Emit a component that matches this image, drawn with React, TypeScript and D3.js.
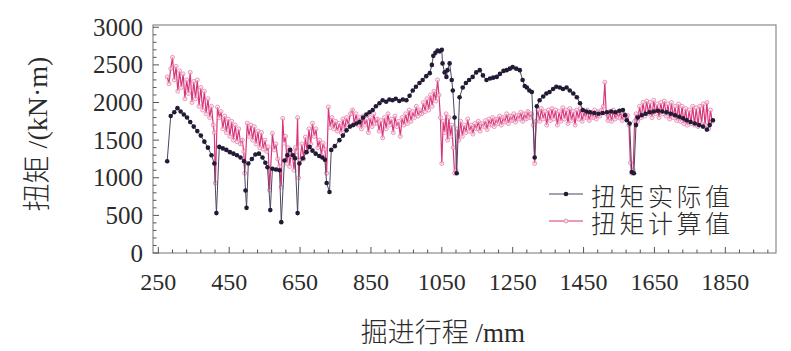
import React from "react";
import * as d3 from "d3";

// measured torque, [stroke mm, kN·m]
const actualSeries = [
  [275, 1220], [285, 1820], [295, 1870], [304, 1925], [313, 1880], [322, 1840], [331, 1800],
  [340, 1740], [350, 1680], [360, 1620], [370, 1560], [380, 1480], [390, 1400], [400, 1300],
  [408, 1190], [414, 530], [422, 1410], [432, 1390], [442, 1370], [452, 1340], [462, 1320],
  [472, 1300], [482, 1270], [492, 1220], [496, 830], [499, 600], [504, 1190], [514, 1250],
  [524, 1310], [534, 1320], [544, 1270], [552, 1200], [558, 1140], [566, 570], [572, 1120],
  [582, 1110], [592, 1100], [597, 410], [606, 1230], [614, 1300], [622, 1370], [630, 1300],
  [636, 1260], [643, 530], [648, 1190], [658, 1260], [668, 1340], [677, 1410], [685, 1360],
  [694, 1320], [704, 1290], [713, 1270], [720, 1240], [725, 930], [733, 810], [738, 1370],
  [748, 1420], [761, 1500], [771, 1560], [781, 1630], [791, 1680], [800, 1700], [809, 1720],
  [818, 1740], [828, 1800], [837, 1840], [846, 1870], [855, 1900], [864, 1950], [874, 1990],
  [883, 2030], [893, 2010], [902, 2040], [911, 2030], [920, 2050], [930, 2020], [940, 2040],
  [950, 2030], [959, 2090], [968, 2160], [977, 2210], [987, 2260], [996, 2300], [1006, 2350],
  [1016, 2390], [1022, 2500], [1026, 2620], [1032, 2660], [1038, 2690], [1044, 2680],
  [1050, 2700], [1052, 2520], [1058, 2400], [1063, 2340], [1066, 2430], [1072, 2520],
  [1078, 2300], [1081, 2160], [1086, 1800], [1092, 1060], [1100, 2070], [1109, 2200],
  [1118, 2260], [1127, 2300], [1137, 2340], [1147, 2400], [1157, 2430], [1166, 2360],
  [1176, 2300], [1186, 2320], [1195, 2330], [1205, 2340], [1214, 2380], [1224, 2420],
  [1233, 2430], [1242, 2450], [1250, 2470], [1260, 2450], [1270, 2430], [1278, 2300],
  [1284, 2220], [1290, 2200], [1297, 2160], [1304, 2140], [1312, 1270], [1318, 1950],
  [1326, 2030], [1336, 2080], [1345, 2120], [1354, 2140], [1364, 2180], [1373, 2210],
  [1383, 2200], [1392, 2180], [1402, 2200], [1411, 2160], [1421, 2120], [1431, 2070],
  [1440, 1990], [1448, 1900], [1458, 1880], [1468, 1870], [1480, 1860], [1492, 1850],
  [1504, 1860], [1516, 1870], [1528, 1880], [1540, 1870], [1551, 1890], [1561, 1900],
  [1567, 1830], [1572, 1765], [1580, 1720], [1586, 1075], [1592, 1060], [1598, 1700],
  [1603, 1800], [1614, 1830], [1625, 1850], [1636, 1870], [1648, 1880], [1660, 1890],
  [1672, 1880], [1684, 1870], [1696, 1850], [1708, 1830], [1720, 1810], [1731, 1790],
  [1741, 1765], [1752, 1740], [1764, 1720], [1776, 1700], [1787, 1680], [1798, 1640],
  [1806, 1700], [1815, 1765],
];

// calculated torque, [stroke mm, kN·m]
const calcSeries = [
  [275, 2340], [280, 2250], [285, 2450], [290, 2600], [295, 2300], [300, 2480], [305, 2150],
  [310, 2420], [315, 2200], [320, 2380], [325, 2050], [330, 2300], [335, 2120], [340, 2400],
  [345, 2000], [350, 2280], [355, 2050], [360, 2300], [365, 1950], [370, 2200], [375, 1900],
  [380, 2150], [385, 1850], [390, 2050], [395, 1800], [400, 1950], [405, 1700], [408, 1600],
  [411, 930], [417, 1940], [422, 1800], [427, 1880], [432, 1650], [437, 1820], [442, 1600],
  [447, 1780], [452, 1550], [457, 1750], [462, 1500], [467, 1700], [472, 1480], [477, 1650],
  [482, 1450], [487, 1500], [491, 1350], [494, 1060], [501, 1725], [506, 1550], [511, 1700],
  [516, 1500], [521, 1680], [526, 1450], [531, 1620], [536, 1400], [541, 1600], [546, 1380],
  [551, 1500], [556, 1350], [560, 1410], [564, 835], [572, 1590], [577, 1370], [582, 1450],
  [587, 1250], [592, 1150], [597, 875], [601, 1790], [605, 1460], [609, 1550], [613, 1190],
  [617, 1400], [621, 1150], [625, 1350], [629, 1275], [633, 1100], [637, 1400], [640, 1350],
  [643, 1800], [646, 1000], [650, 1230], [655, 1450], [660, 1250], [665, 1540], [670, 1350],
  [675, 1650], [680, 1450], [685, 1725], [690, 1550], [695, 1650], [700, 1400], [705, 1500],
  [710, 1300], [715, 1460], [720, 1380], [725, 1060], [730, 1940], [735, 1670], [740, 1800],
  [745, 1650], [750, 1750], [755, 1620], [761, 1725], [766, 1600], [771, 1780], [776, 1650],
  [781, 1800], [786, 1700], [792, 1850], [798, 1900], [803, 1720], [808, 1850], [813, 1700],
  [818, 1800], [823, 1650], [828, 1820], [833, 1700], [838, 1780], [843, 1600], [848, 1800],
  [853, 1680], [858, 1850], [863, 1720], [868, 1780], [873, 1620], [878, 1760], [883, 1530],
  [888, 1800], [893, 1650], [898, 1850], [903, 1700], [908, 1780], [913, 1600], [918, 1820],
  [923, 1680], [928, 1750], [933, 1550], [938, 1800], [943, 1700], [948, 1850], [953, 1720],
  [958, 1900], [963, 1750], [968, 1880], [973, 1800], [978, 1950], [983, 1820], [988, 1900],
  [993, 1850], [998, 2000], [1003, 1880], [1008, 2050], [1013, 1900], [1018, 2100],
  [1023, 1950], [1028, 2150], [1033, 2020], [1038, 2300], [1042, 2100], [1046, 1800],
  [1050, 1190], [1054, 1750], [1058, 1600], [1062, 1850], [1066, 1500], [1070, 1800],
  [1074, 1550], [1078, 1700], [1082, 1400], [1086, 1060], [1090, 1100], [1094, 1650],
  [1098, 1500], [1103, 1750], [1108, 1550], [1113, 1700], [1118, 1600], [1123, 1780],
  [1128, 1620], [1133, 1700], [1138, 1580], [1143, 1720], [1148, 1650], [1153, 1750],
  [1158, 1620], [1163, 1720], [1168, 1680], [1173, 1760], [1178, 1640], [1183, 1780],
  [1188, 1700], [1193, 1800], [1198, 1680], [1203, 1780], [1208, 1720], [1213, 1820],
  [1218, 1700], [1223, 1800], [1228, 1740], [1233, 1850], [1238, 1720], [1243, 1820],
  [1248, 1760], [1253, 1850], [1258, 1740], [1263, 1830], [1268, 1780], [1273, 1870],
  [1278, 1750], [1283, 1850], [1288, 1780], [1293, 1880], [1298, 1800], [1303, 1850],
  [1308, 1700], [1312, 1190], [1316, 1750], [1321, 1900], [1326, 1750], [1331, 1920],
  [1336, 1780], [1341, 1880], [1346, 1700], [1351, 1900], [1356, 1760], [1361, 1920],
  [1366, 1780], [1371, 1900], [1376, 1700], [1381, 1880], [1386, 1750], [1391, 1930],
  [1396, 1780], [1401, 1900], [1406, 1720], [1411, 1920], [1416, 1760], [1421, 1880],
  [1426, 1700], [1431, 1900], [1436, 1780], [1441, 1920], [1446, 1750], [1451, 1880],
  [1456, 1800], [1461, 1900], [1466, 1760], [1471, 1870], [1476, 1800], [1481, 1900],
  [1486, 1780], [1491, 1880], [1496, 1820], [1501, 1900], [1506, 1950], [1510, 2270],
  [1514, 1850], [1519, 1760], [1524, 1880], [1529, 1750], [1534, 1900], [1539, 1780],
  [1544, 1870], [1549, 1800], [1554, 1880], [1559, 1760], [1564, 1850], [1569, 1800],
  [1574, 1830], [1578, 1700], [1582, 1200], [1586, 1060], [1590, 1100], [1594, 1750],
  [1598, 1850], [1603, 1750], [1608, 1950], [1613, 1800], [1618, 2000], [1623, 1820],
  [1628, 2020], [1633, 1850], [1638, 2000], [1643, 1800], [1648, 2030], [1653, 1850],
  [1658, 1980], [1663, 1800], [1668, 2000], [1673, 1850], [1678, 2020], [1683, 1820],
  [1688, 1980], [1693, 1780], [1698, 2000], [1703, 1800], [1708, 1950], [1713, 1760],
  [1718, 1980], [1723, 1750], [1728, 1950], [1733, 1720], [1738, 1920], [1743, 1700],
  [1748, 1900], [1753, 1720], [1758, 1950], [1763, 1700], [1768, 1930], [1773, 1680],
  [1778, 1950], [1783, 1720], [1788, 1980], [1793, 1700], [1798, 2000], [1803, 1650],
  [1808, 1900], [1813, 1750],
];

const xTickValues = [250, 450, 650, 850, 1050, 1250, 1450, 1650, 1850];
const yTickValues = [0, 500, 1000, 1500, 2000, 2500, 3000];
const legendLabels = ["扭矩实际值", "扭矩计算值"];

const W = 791;
const H = 351;
const left = 153, right = 776, top = 25, bottom = 253;

const serif = "'Liberation Serif', 'DejaVu Serif', serif";
const cjk = "'Noto Sans CJK SC', sans-serif";

const App = () => {
  const x = d3.scaleLinear().domain([235, 1993]).range([left, right]);
  const y = d3.scaleLinear().domain([0, 3030]).range([bottom, top]);

  const line = d3
    .line<number[]>()
    .x((d) => x(d[0]))
    .y((d) => y(d[1]));

  // small ticks every 40 mm along x, every 100 along y
  const xMinor = d3.range(250, 1990, 40);
  const yMinor = d3.range(0, 3001, 100);

  const calcColor = "#d8367b";
  const actualColor = "#231a36";

  return (
    <svg
      width={W}
      height={H}
      style={{ position: "absolute", left: 0, top: 0, background: "#fff" }}
    >
      {/* frame */}
      <rect
        x={left}
        y={top}
        width={right - left}
        height={bottom - top}
        fill="none"
        stroke="#8a8a8a"
        strokeWidth={1.2}
      />

      {/* x ticks */}
      {xMinor.map((v) => (
        <line
          key={"xm" + v}
          x1={x(v)}
          x2={x(v)}
          y1={bottom}
          y2={bottom - ((v - 250) % 200 === 0 ? 6 : 3.5)}
          stroke="#555"
          strokeWidth={1}
        />
      ))}
      {/* y ticks */}
      {yMinor.map((v) => (
        <line
          key={"ym" + v}
          x1={left}
          x2={left + (v % 500 === 0 ? 6 : 3.5)}
          y1={y(v)}
          y2={y(v)}
          stroke="#555"
          strokeWidth={1}
        />
      ))}

      {xTickValues.map((v) => (
        <text
          key={"xt" + v}
          x={x(v)}
          y={290}
          textAnchor="middle"
          fontFamily={serif}
          fontSize={24}
          fill="#2b2b2b"
        >
          {v}
        </text>
      ))}
      {yTickValues.map((v) => (
        <text
          key={"yt" + v}
          x={143}
          y={y(v) + 8.5}
          textAnchor="end"
          fontFamily={serif}
          fontSize={25}
          fill="#2b2b2b"
        >
          {v}
        </text>
      ))}

      {/* axis titles */}
      <text
        transform={`translate(47, 134) rotate(-90)`}
        textAnchor="middle"
        fontSize={28}
        fill="#2b2b2b"
      >
        <tspan fontFamily={cjk} fontWeight={300}>扭矩</tspan>
        <tspan fontFamily={serif}> /(kN·m)</tspan>
      </text>
      <text x={443} y={342} textAnchor="middle" fontSize={27} fill="#2b2b2b">
        <tspan fontFamily={cjk} fontWeight={300}>掘进行程</tspan>
        <tspan fontFamily={serif}> /mm</tspan>
      </text>

      {/* calculated series */}
      <path d={line(calcSeries) || ""} fill="none" stroke={calcColor} strokeWidth={1.2} />
      {calcSeries.map((d, i) => (
        <circle
          key={"c" + i}
          cx={x(d[0])}
          cy={y(d[1])}
          r={2}
          fill="#fbe3ee"
          fillOpacity={0.5}
          stroke="#e2709f"
          strokeWidth={0.7}
        />
      ))}

      {/* actual series */}
      <path d={line(actualSeries) || ""} fill="none" stroke="#4d4660" strokeWidth={1} />
      {actualSeries.map((d, i) => (
        <circle key={"a" + i} cx={x(d[0])} cy={y(d[1])} r={2.3} fill={actualColor} />
      ))}

      {/* legend */}
      <g>
        <line x1={549} x2={583} y1={194} y2={194} stroke="#4d4660" strokeWidth={1} />
        <circle cx={566} cy={194} r={2.3} fill={actualColor} />
        <text
          x={591}
          y={206}
          fontFamily={cjk}
          fontWeight={300}
          fontSize={25}
          letterSpacing={3.5}
          fill="#2b2b2b"
        >
          {legendLabels[0]}
        </text>
        <line x1={549} x2={583} y1={221} y2={221} stroke={calcColor} strokeWidth={1.2} />
        <circle
          cx={566}
          cy={221}
          r={2}
          fill="#fbe3ee"
          stroke="#e2709f"
          strokeWidth={0.7}
        />
        <text
          x={591}
          y={233}
          fontFamily={cjk}
          fontWeight={300}
          fontSize={25}
          letterSpacing={3.5}
          fill="#2b2b2b"
        >
          {legendLabels[1]}
        </text>
      </g>
    </svg>
  );
};

export default App;
